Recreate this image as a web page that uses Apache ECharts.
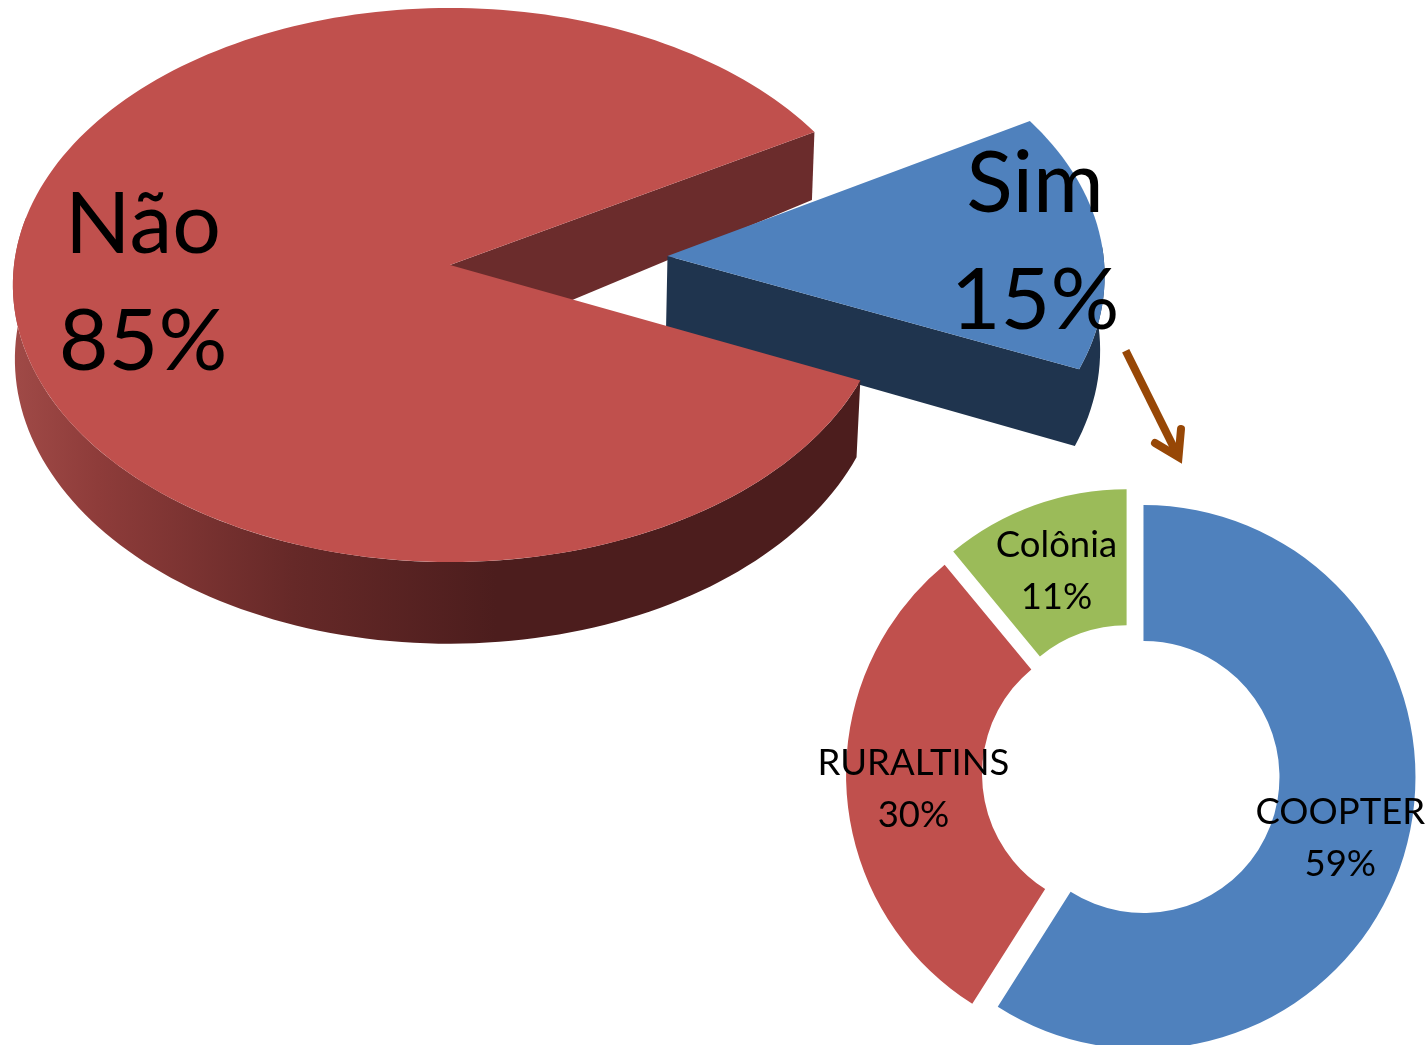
<!DOCTYPE html>
<html>
<head>
<meta charset="utf-8">
<style>html,body{margin:0;padding:0;background:#fff}#c{width:1426px;height:1045px}</style>
<script src="https://cdn.jsdelivr.net/npm/echarts@6/dist/echarts.min.js"></script>
</head>
<body>
<div id="c"></div>
<script>
// Data
const mainCategories = ['Não', 'Sim'];
const mainValues = [85, 15];
const subCategories = ['COOPTER', 'RURALTINS', 'Colônia'];
const subValues = [59, 30, 11];
const subColors = ['#4f81bd', '#c0504d', '#9bbb59'];

// Perspective view of the large exploded pie
const view = { A: 436, B: 275.6, k: 0.0722, lowerA: 433, lowerB: 283 };
const place = {
  'Não': { x: 450, y: 265, lowerX: 449, lowerY: 338.7, labelX: 143, labelY: 284, startDeg: 30 },
  'Sim': { x: 667.5, y: 256, lowerX: 666, lowerY: 329.7, labelX: 1035, labelY: 243, startDeg: 30.5 }
};
const wall = { cornerDx: -2.5, cornerDy: 68, apexDy: 86 };
const bigFont = { size: 86, line: 117 };
// Nudges for the ring labels
const subLabelNudge = [{ dx: -2, dy: 3 }, { dx: 2, dy: 2 }, { dx: 0, dy: 5 }];

function upper(p, deg) {
  const t = deg * Math.PI / 180, c = Math.cos(t), s = Math.sin(t), d = 1 + view.k * s;
  return [p.x + view.A * c / d, p.y - view.B * s / d];
}
function lower(p, deg) {
  const t = deg * Math.PI / 180, c = Math.cos(t), s = Math.sin(t), d = 1 + view.k * s;
  return [p.lowerX + view.lowerA * c / d, p.lowerY - view.lowerB * s / d];
}
function arc(fn, p, from, to) {
  const n = Math.max(2, Math.ceil(Math.abs(to - from) / 1.5)), out = [];
  for (let i = 0; i <= n; i++) out.push(fn(p, from + (to - from) * i / n));
  return out;
}

function renderBig(params, api) {
  const value = api.value(0);
  const name = mainCategories[params.dataIndex];
  const p = place[name];
  const span = value / mainValues.reduce((a, b) => a + b, 0) * 360;
  const children = [];
  const label = {
    type: 'text', z2: 10,
    style: {
      text: name + '\n' + value + '%', x: p.labelX, y: p.labelY, align: 'center', verticalAlign: 'middle',
      font: bigFont.size + 'px Lato', lineHeight: bigFont.line, fill: '#000'
    }
  };
  if (name === 'Sim') {
    const a = p.startDeg, b = p.startDeg - span;
    const top = [[p.x, p.y]].concat(arc(upper, p, a, b));
    const side = [[p.x, p.y]].concat(arc(upper, p, b, 2), arc(lower, p, 2, b), [[p.lowerX, p.lowerY]]);
    children.push({ type: 'polygon', z2: 3, shape: { points: side }, style: { fill: '#1f344e' } });
    children.push({ type: 'polygon', z2: 4, shape: { points: top }, style: { fill: '#4f81bd' } });
  } else {
    const a = p.startDeg, b = p.startDeg + span;
    const top = [[p.x, p.y]].concat(arc(upper, p, a, b));
    const corner = upper(p, a);
    const wallPts = [[p.x, p.y], corner, [corner[0] + wall.cornerDx, corner[1] + wall.cornerDy], [p.x, p.y + wall.apexDy]];
    const side = arc(upper, p, 170, b).concat(arc(lower, p, b, 170));
    children.push({ type: 'polygon', z2: 2, shape: { points: wallPts }, style: { fill: '#6b2c2c' } });
    children.push({
      type: 'polygon', z2: 5, shape: { points: side },
      style: {
        fill: new echarts.graphic.LinearGradient(0, 0, 1, 0, [
          { offset: 0, color: '#a04a47' },
          { offset: 0.1, color: '#8e3c3a' },
          { offset: 0.33, color: '#662928' },
          { offset: 0.57, color: '#4c1d1d' },
          { offset: 1, color: '#4c1d1d' }
        ])
      }
    });
    children.push({ type: 'polygon', z2: 6, shape: { points: top }, style: { fill: '#c0504d' } });
  }
  children.push(label);
  return { type: 'group', children };
}

const chart = echarts.init(document.getElementById('c'), null, { renderer: 'canvas' });
chart.setOption({
  animation: false,
  backgroundColor: '#fff',
  series: [
    {
      type: 'custom',
      coordinateSystem: 'none',
      silent: true,
      renderItem: renderBig,
      data: mainValues.map(v => [v])
    },
    {
      type: 'pie',
      silent: true,
      center: [1131, 773.4],
      radius: [136, 272],
      startAngle: 90,
      clockwise: true,
      selectedMode: 'multiple',
      selectedOffset: 13,
      avoidLabelOverlap: false,
      itemStyle: { borderWidth: 0 },
      label: {
        show: true, position: 'inside', formatter: '{b}\n{c}%', color: '#000',
        fontFamily: 'Lato', fontSize: 36.5, lineHeight: 52, overflow: 'none', textBorderWidth: 0
      },
      labelLine: { show: false },
      labelLayout: params => subLabelNudge[params.dataIndex],
      data: subCategories.map((n, i) => ({
        name: n, value: subValues[i], selected: true, itemStyle: { color: subColors[i] },
        select: { itemStyle: { color: subColors[i] } }
      }))
    }
  ],
  graphic: [
    { type: 'line', silent: true, shape: { x1: 1125.7, y1: 350.7, x2: 1178.5, y2: 457 }, style: { stroke: '#974706', lineWidth: 8, lineCap: 'butt' } },
    { type: 'polyline', silent: true, shape: { points: [[1155, 443], [1178.5, 457], [1181, 429]] }, style: { stroke: '#974706', lineWidth: 8, lineCap: 'round', lineJoin: 'miter', fill: null } }
  ]
});
</script>
</body>
</html>
